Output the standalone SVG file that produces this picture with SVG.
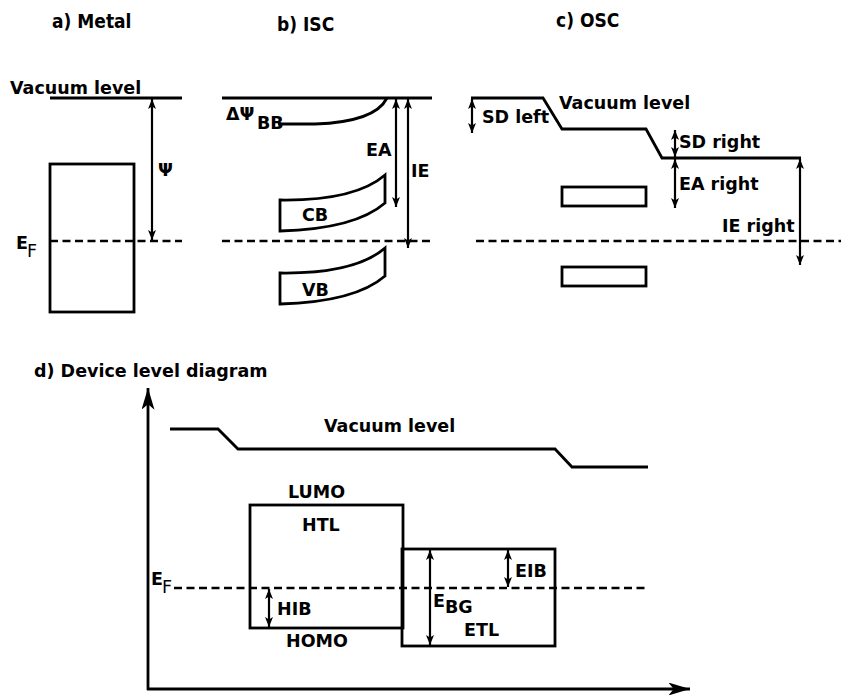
<svg xmlns="http://www.w3.org/2000/svg" width="841" height="695" viewBox="0 0 841 695">
<style>
text{font-family:"DejaVu Sans","Verdana",sans-serif;font-weight:bold;font-size:17.5px;fill:#000}
.t{font-family:"DejaVu Sans Condensed","DejaVu Sans",sans-serif;font-size:19px}
.reg{font-weight:normal}
.ln{fill:none;stroke:#000;stroke-width:2.8}
.ds{fill:none;stroke:#000;stroke-width:2.6;stroke-dasharray:8 4.5}
.ar{fill:none;stroke:#000;stroke-width:2.2;marker-start:url(#ah);marker-end:url(#ah)}
.ax{fill:none;stroke:#000;stroke-width:2.8;marker-end:url(#big)}
</style>
<defs>
<marker id="ah" viewBox="0 0 10 8" refX="10" refY="4" markerWidth="11" markerHeight="8" markerUnits="userSpaceOnUse" orient="auto-start-reverse">
<path d="M0,0 L10,4 L0,8 L2.5,4 z" fill="#000"/>
</marker>
<marker id="big" viewBox="0 0 20 12" refX="20" refY="6" markerWidth="22" markerHeight="13" markerUnits="userSpaceOnUse" orient="auto">
<path d="M0,0 L20,6 L0,12 L5,6 z" fill="#000"/>
</marker>
</defs>

<g id="titles">
<text class="t" x="52" y="28">a) Metal</text>
<text class="t" x="277" y="31">b) ISC</text>
<text class="t" x="556" y="27">c) OSC</text>
<text x="34" y="377">d) Device level diagram</text>
</g>

<g id="metal">
<line class="ln" x1="50" y1="98" x2="182" y2="98"/>
<text x="10" y="94">Vacuum level</text>
<rect class="ln" x="50" y="164" width="84" height="148"/>
<line class="ds" x1="50" y1="241" x2="182" y2="241"/>
<text x="158" y="176" font-size="18">Ψ</text>
<text x="16" y="249" font-size="15">E</text>
<text class="reg" x="27" y="257" font-size="19">F</text>
</g>

<g id="isc">
<line class="ln" x1="222" y1="98" x2="432" y2="98"/>
<path class="ln" d="M278,124 L315,124 Q375,122 387,98"/>
<text x="226" y="120" font-size="17">ΔΨ</text>
<text x="257" y="129" font-size="12.5">BB</text>
<text x="366" y="156">EA</text>
<text x="411" y="177">IE</text>
<line class="ds" x1="222" y1="241" x2="432" y2="241"/>
<path class="ln" d="M280,200 Q355,201 385,175 L385,203 Q355,229 280,231 Z"/>
<text x="302" y="221">CB</text>
<path class="ln" d="M280,273 Q355,274 385,248 L385,276 Q355,302 280,304 Z"/>
<text x="302" y="296">VB</text>
</g>

<g id="osc">
<path class="ln" d="M471,98 L543,98 L562,129 L646,129 L662,158 L801,158"/>
<text x="482" y="123">SD left</text>
<text x="559" y="109">Vacuum level</text>
<text x="679" y="148">SD right</text>
<text x="679" y="190">EA right</text>
<text x="722" y="232">IE right</text>
<line class="ds" x1="476" y1="241" x2="841" y2="241"/>
<rect class="ln" x="562" y="187" width="84" height="19"/>
<rect class="ln" x="562" y="267" width="84" height="19"/>
</g>

<g id="device">
<path class="ln" d="M170,429 L218,429 L238,449 L555,449 L572,467 L648,467"/>
<text x="324" y="432">Vacuum level</text>
<rect class="ln" x="250" y="505" width="153" height="123"/>
<text x="288" y="498">LUMO</text>
<text x="302" y="531">HTL</text>
<text x="286" y="647">HOMO</text>
<rect class="ln" x="402" y="549" width="153" height="97"/>
<text x="464" y="636">ETL</text>
<line class="ds" x1="174" y1="588" x2="648" y2="588"/>
<text x="151" y="585" font-size="15">E</text>
<text class="reg" x="162" y="593" font-size="19">F</text>
<text x="277" y="615">HIB</text>
<text x="515" y="577">EIB</text>
<text x="433" y="607" font-size="15">E</text>
<text x="445" y="613" font-size="11.5">BG</text>
</g>

<g id="connectors">
<line class="ar" x1="152" y1="99" x2="152" y2="240"/>
<line class="ar" x1="396" y1="99" x2="396" y2="207"/>
<line class="ar" x1="408" y1="99" x2="408" y2="248"/>
<line class="ar" x1="472" y1="99" x2="472" y2="133"/>
<line class="ar" x1="675" y1="130" x2="675" y2="157"/>
<line class="ar" x1="675" y1="159" x2="675" y2="208"/>
<line class="ar" x1="800" y1="159" x2="800" y2="265"/>
<line class="ar" x1="269" y1="589" x2="269" y2="627"/>
<line class="ar" x1="430" y1="550" x2="430" y2="645"/>
<line class="ar" x1="508" y1="550" x2="508" y2="587"/>
<line class="ax" x1="148" y1="690" x2="148" y2="388"/>
<line class="ax" x1="147" y1="689" x2="690" y2="689"/>
</g>
</svg>
